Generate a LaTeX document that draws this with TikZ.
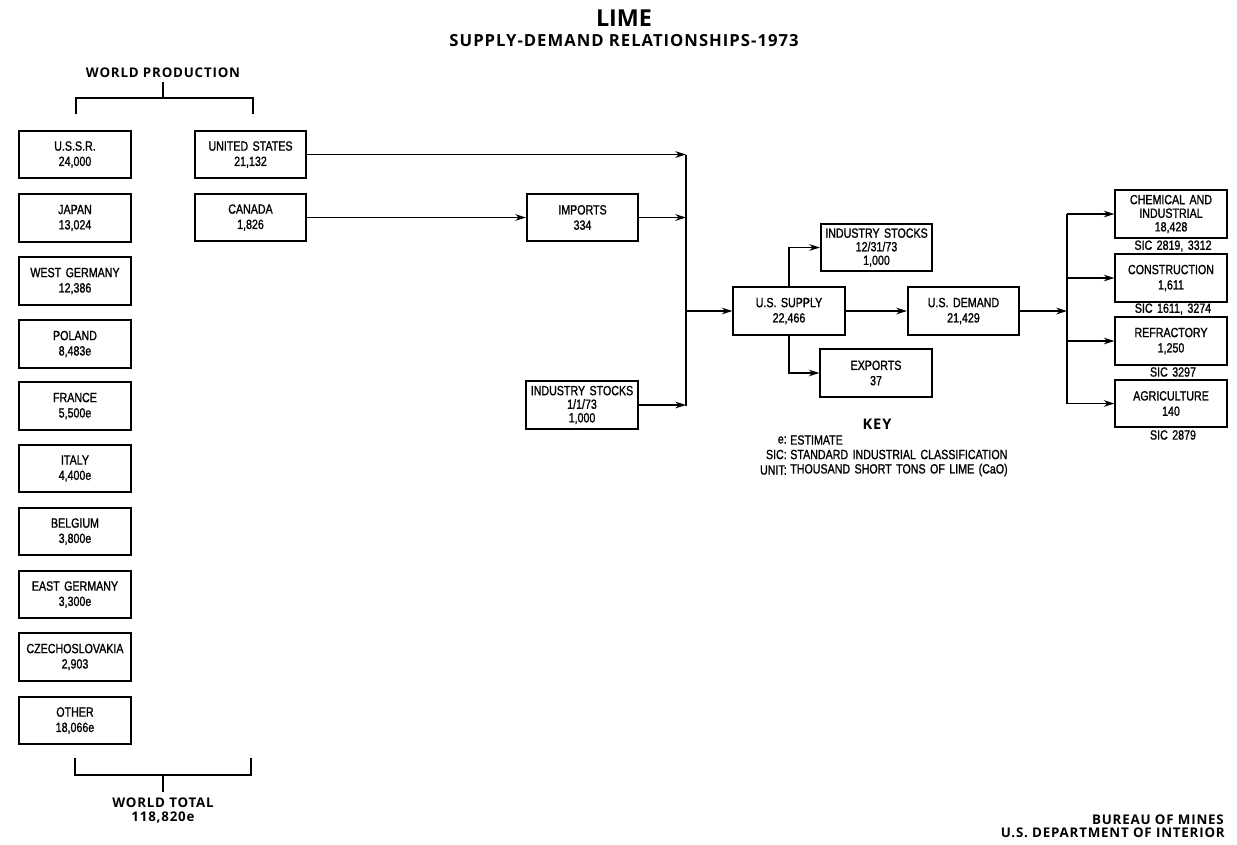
\documentclass[tikz,border=0pt]{standalone}
\usepackage{fontspec}
\newfontfamily\cond[FakeStretch=0.8,FakeBold=1.2,WordSpace=1.5]{Liberation Sans}
\newfontfamily\ttl[LetterSpace=6]{Open Sans}
\newfontfamily\ttlbig{Open Sans}
\usetikzlibrary{arrows.meta,calc}
\begin{document}
\begin{tikzpicture}[x=0.75pt,y=-0.75pt,
  box/.style={draw,line width=1.4pt,minimum width=83.5pt,minimum height=35.5pt,inner sep=0pt,align=center,font=\cond\fontsize{10}{11.5}\selectfont},
  box3/.style={box,font=\cond\fontsize{10}{10.2}\selectfont},
  flow/.style={line width=1.1pt,-{Stealth[length=8pt,width=5pt]}},
  plain/.style={line width=1.1pt},
  brk/.style={line width=2.2pt},
  lbl/.style={font=\cond\fontsize{10}{11}\selectfont,inner sep=0pt},
  head/.style={font=\ttl\bfseries\fontsize{#1}{#1}\selectfont,inner sep=0pt},
  ]
\useasboundingbox (0,0) rectangle (1237,844);

% titles
\node[font=\ttlbig\bfseries\fontsize{17.5}{17.5}\selectfont,inner sep=0pt] (title) at (624,18.5) {LIME};
\node[head=12.5] (subtitle) at (624,41) {SUPPLY-DEMAND RELATIONSHIPS-1973};
\node[head=10] (wprod) at (163,73) {WORLD PRODUCTION};

% world production bracket
\coordinate (wpa) at (163,82);
\coordinate (wpb) at (163,98);
\coordinate (wpl) at (76,98);
\coordinate (wpr) at (253,98);
\draw[brk] (wpa) -- (wpb);
\draw[brk] ($(wpl)+(0,16)$) -- (wpl) -- (wpr) -- ($(wpr)+(0,16)$);

% left column
\node[box] (ussr) at (75,154.5) {U.S.S.R.\\24,000};
\node[box] (japan) at (75,218) {JAPAN\\13,024};
\node[box] (wger) at (75,281) {WEST GERMANY\\12,386};
\node[box] (poland) at (75,344) {POLAND\\8,483e};
\node[box] (france) at (75,406) {FRANCE\\5,500e};
\node[box] (italy) at (75,468.5) {ITALY\\4,400e};
\node[box] (belgium) at (75,531.5) {BELGIUM\\3,800e};
\node[box] (eger) at (75,594.5) {EAST GERMANY\\3,300e};
\node[box] (czech) at (75,657) {CZECHOSLOVAKIA\\2,903};
\node[box] (other) at (75,720.5) {OTHER\\18,066e};

% world total bracket
\coordinate (wtl) at (75,775);
\coordinate (wtr) at (251,775);
\coordinate (wta) at (163,775);
\coordinate (wtb) at (163,792);
\draw[brk] ($(wtl)+(0,-17)$) -- (wtl) -- (wtr) -- ($(wtr)+(0,-17)$);
\draw[brk] (wta) -- (wtb);
\node[head=10] (wtotal) at (163,803) {WORLD TOTAL};
\node[head=10] (wtotaln) at (163,818) {118,820e};

% US and Canada
\node[box] (us) at (250.5,154.5) {UNITED STATES\\21,132};
\node[box] (canada) at (250.5,217.5) {CANADA\\1,826};

% imports and stocks
\node[box] (imports) at (582.5,217.5) {IMPORTS\\334};
\node[box3] (is1) at (582,405) {INDUSTRY STOCKS\\1/1/73\\1,000};

% left junction
\coordinate (jtop) at (686,154.5);
\coordinate (jbot) at (686,406);
\draw[plain] (jtop) -- (jbot);
\draw[flow] (us.east) -- (us.east -| jtop);
\draw[flow] (canada.east) -- (imports.west);
\draw[flow] (imports.east) -- (imports.east -| jtop);
\draw[flow] (is1.east) -- (is1.east -| jtop);

% supply
\node[box] (supply) at (789,311) {U.S. SUPPLY\\22,466};
\draw[flow] (supply.west -| jtop) -- (supply.west);
\node[box3] (is2) at (876.5,247.5) {INDUSTRY STOCKS\\12/31/73\\1,000};
\node[box] (exports) at (876,373) {EXPORTS\\37};
\draw[flow] (supply.north) |- (is2.west);
\draw[flow] (supply.south) |- (exports.west);

% demand
\node[box] (demand) at (963.5,311) {U.S. DEMAND\\21,429};
\draw[flow] (supply.east) -- (demand.west);

% right junction
\coordinate (rtop) at (1067,214);
\coordinate (rbot) at (1067,404);
\draw[plain] (rtop) -- (rbot);
\draw[flow] (demand.east) -- (demand.east -| rtop);

\node[box3] (chem) at (1171,214) {CHEMICAL AND\\INDUSTRIAL\\18,428};
\node[box] (constr) at (1171,278) {CONSTRUCTION\\1,611};
\node[box] (refr) at (1171,341) {REFRACTORY\\1,250};
\node[box] (agri) at (1171,403.5) {AGRICULTURE\\140};
\draw[flow] (chem.west -| rtop) -- (chem.west);
\draw[flow] (constr.west -| rtop) -- (constr.west);
\draw[flow] (refr.west -| rtop) -- (refr.west);
\draw[flow] (agri.west -| rtop) -- (agri.west);

\node[lbl] (sic1) at (1173,246) {SIC 2819, 3312};
\node[lbl] (sic2) at (1173,309) {SIC 1611, 3274};
\node[lbl] (sic3) at (1173,372) {SIC 3297};
\node[lbl] (sic4) at (1173,435) {SIC 2879};

% key
\node[head=11] (key) at (877,424) {KEY};
\node[lbl,anchor=east] (k1a) at (787,440) {e:};
\node[lbl,anchor=west] (k1b) at (790,440) {ESTIMATE};
\node[lbl,anchor=east] (k2a) at (787,454.5) {SIC:};
\node[lbl,anchor=west] (k2b) at (790,454.5) {STANDARD INDUSTRIAL CLASSIFICATION};
\node[lbl,anchor=east] (k3a) at (787,470) {UNIT:};
\node[lbl,anchor=west] (k3b) at (790,470) {THOUSAND SHORT TONS OF LIME (CaO)};

% footer
\node[head=10,anchor=east] (f1) at (1224,820) {BUREAU OF MINES};
\node[head=10,anchor=east] (f2) at (1225,833) {U.S. DEPARTMENT OF INTERIOR};
\end{tikzpicture}
\end{document}
